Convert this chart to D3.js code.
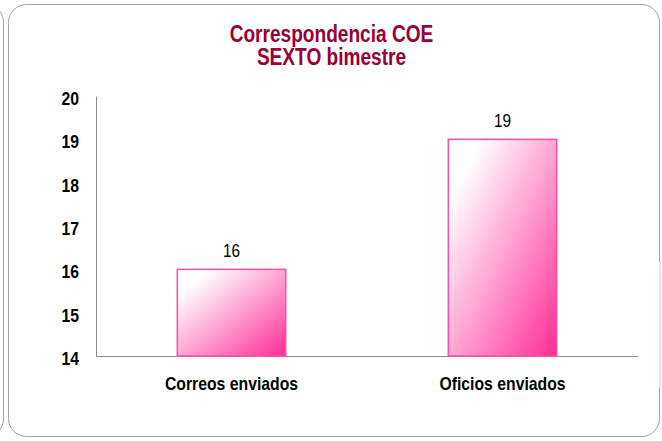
<!DOCTYPE html>
<html>
<head>
<meta charset="utf-8">
<script src="https://cdn.jsdelivr.net/npm/d3@7"></script>
<style>
  body { margin: 0; background: #ffffff; }
  svg { display: block; }
  text { font-family: "Liberation Sans", Arial, sans-serif; }
</style>
</head>
<body>
<div class="chart"></div>
<script>
// data
var categories = ["Correos enviados", "Oficios enviados"];
var values = [16, 19];
var yTicks = [14, 15, 16, 17, 18, 19, 20];
var titleLines = ["Correspondencia COE", "SEXTO bimestre"];

var width = 662, height = 441;
var margin = { left: 96, right: 24, top: 96, bottom: 85 };
var squeeze = 0.83; // the original text is horizontally compressed

// squeeze a text selection horizontally
function narrow(sel) {
  sel.each(function() {
    var len = this.getComputedTextLength();
    d3.select(this)
      .attr("textLength", len * squeeze)
      .attr("lengthAdjust", "spacingAndGlyphs");
  });
}

var svg = d3.select(".chart")
  .append("svg")
    .attr("width", width)
    .attr("height", height);

// gradient for bars
var defs = svg.append("defs");
var grad = defs.append("linearGradient")
  .attr("id", "barGrad")
  .attr("x1", 0).attr("y1", 0)
  .attr("x2", 1).attr("y2", 1);
grad.append("stop").attr("offset", "0.15").attr("stop-color", "#ffffff");
grad.append("stop").attr("offset", "1").attr("stop-color", "#ff2c95");

// neighbour panel edge on the left
svg.append("rect")
  .attr("x", -200).attr("y", 4)
  .attr("width", 203.5).attr("height", 433)
  .attr("rx", 18)
  .attr("fill", "none")
  .attr("stroke", "#a0a0a0");

// panel
svg.append("rect")
  .attr("x", 8.5).attr("y", 4.5)
  .attr("width", 651).attr("height", 432)
  .attr("rx", 18)
  .attr("fill", "#ffffff")
  .attr("stroke", "#a0a0a0");

// faint strip at right edge
svg.append("rect")
  .attr("x", 659).attr("y", 262)
  .attr("width", 2).attr("height", 126)
  .attr("fill", "#f3dde6");

// title
svg.selectAll("text.title")
  .data(titleLines)
  .enter()
  .append("text")
    .attr("class", "title")
    .attr("x", 331.5)
    .attr("y", function(d, i) { return 42 + i * 23; })
    .attr("text-anchor", "middle")
    .attr("font-size", "23px")
    .attr("font-weight", "bold")
    .attr("fill", "#990033")
    .text(function(d) { return d; })
    .call(narrow);

// scales
var x = d3.scaleBand()
  .domain(categories)
  .range([margin.left, width - margin.right])
  .paddingInner(0.6)
  .paddingOuter(0.3);

var y = d3.scaleLinear()
  .domain([14, 20])
  .range([height - margin.bottom, margin.top]);

// y axis
var yAxis = d3.axisLeft(y)
  .tickValues(yTicks)
  .tickSize(0)
  .tickPadding(17)
  .tickFormat(function(d) { return d; });

var yAxisGroup = svg.append("g")
  .attr("class", "y axis")
  .attr("transform", "translate(" + margin.left + ",0)")
  .call(yAxis);
yAxisGroup.select(".domain").attr("stroke", "#8c8c8c");
yAxisGroup.selectAll("text")
  .attr("font-family", null)
  .attr("font-size", "19px")
  .attr("font-weight", "bold")
  .attr("fill", "#000000")
  .attr("dy", "0.44em")
  .call(narrow);

// x axis
var xAxis = d3.axisBottom(x)
  .tickSize(0)
  .tickPadding(20.5);

var xAxisGroup = svg.append("g")
  .attr("class", "x axis")
  .attr("transform", "translate(0," + y(14) + ")")
  .call(xAxis);
xAxisGroup.select(".domain").attr("stroke", "#8c8c8c");
xAxisGroup.selectAll("text")
  .attr("font-family", null)
  .attr("font-size", "19px")
  .attr("font-weight", "bold")
  .attr("fill", "#000000")
  .call(narrow);

// bars
var data = categories.map(function(c, i) { return { cat: c, value: values[i] }; });

svg.selectAll("rect.bar")
  .data(data)
  .enter()
  .append("rect")
    .attr("class", "bar")
    .attr("x", function(d) { return x(d.cat); })
    .attr("y", function(d) { return y(d.value); })
    .attr("width", x.bandwidth())
    .attr("height", function(d) { return y(14) - y(d.value); })
    .attr("fill", "url(#barGrad)")
    .attr("stroke", "#ff4da6")
    .attr("stroke-width", 1.5);

// value labels
svg.selectAll("text.val")
  .data(data)
  .enter()
  .append("text")
    .attr("class", "val")
    .attr("x", function(d) { return x(d.cat) + x.bandwidth() / 2; })
    .attr("y", function(d) { return y(d.value) - 12; })
    .attr("text-anchor", "middle")
    .attr("font-size", "18.5px")
    .attr("fill", "#000000")
    .text(function(d) { return d.value; })
    .call(narrow);
</script>
</body>
</html>
